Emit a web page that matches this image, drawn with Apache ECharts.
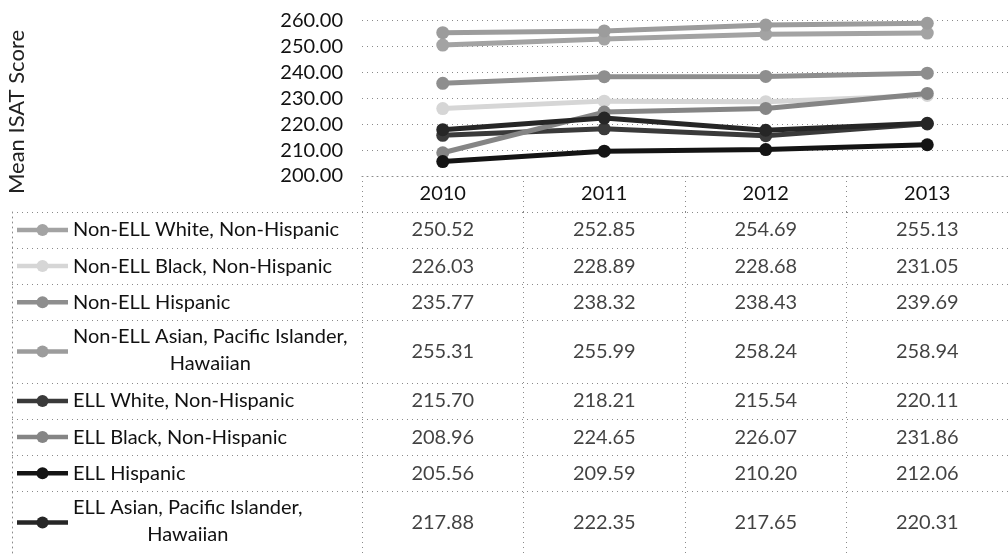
<!DOCTYPE html>
<html>
<head>
<meta charset="utf-8">
<script src="https://cdn.jsdelivr.net/npm/echarts@6/dist/echarts.min.js"></script>
<style>
html,body{margin:0;padding:0;background:#fff;}
#chart{width:1008px;height:554px;}
</style>
</head>
<body>
<div id="chart"></div>
<script>
// ---------- data ----------
const years = ['2010', '2011', '2012', '2013'];
const groupNames = [
  'Non-ELL White, Non-Hispanic',
  'Non-ELL Black, Non-Hispanic',
  'Non-ELL Hispanic',
  'Non-ELL Asian, Pacific Islander, Hawaiian',
  'ELL White, Non-Hispanic',
  'ELL Black, Non-Hispanic',
  'ELL Hispanic',
  'ELL Asian, Pacific Islander, Hawaiian'
];
const nonEllWhite    = [250.52, 252.85, 254.69, 255.13];
const nonEllBlack    = [226.03, 228.89, 228.68, 231.05];
const nonEllHispanic = [235.77, 238.32, 238.43, 239.69];
const nonEllAsian    = [255.31, 255.99, 258.24, 258.94];
const ellWhite       = [215.70, 218.21, 215.54, 220.11];
const ellBlack       = [208.96, 224.65, 226.07, 231.86];
const ellHispanic    = [205.56, 209.59, 210.20, 212.06];
const ellAsian       = [217.88, 222.35, 217.65, 220.31];
const yAxisMin = 200, yAxisMax = 260, yAxisStep = 10;
const axisTitle = 'Mean ISAT Score';

// ---------- style / layout ----------
const seriesValues = [nonEllWhite, nonEllBlack, nonEllHispanic, nonEllAsian, ellWhite, ellBlack, ellHispanic, ellAsian];
const colors = ['#a3a3a3', '#d6d6d6', '#8e8e8e', '#9c9c9c', '#3a3a3a', '#858585', '#141414', '#262626'];
const FONT = 'Lato';
const FS = 20;
const textColor = '#111111';
const gridColor = '#8a8a8a';
const dotted = [1, 4];

// wrap row names to fit the label cell
const ctx = document.createElement('canvas').getContext('2d');
ctx.font = FS + 'px ' + FONT;
const maxTextW = 289;
function wrap(name) {
  const words = name.split(' ');
  const lines = [];
  let cur = '';
  words.forEach(w => {
    const t = cur ? cur + ' ' + w : w;
    if (ctx.measureText(t).width > maxTextW && cur) { lines.push(cur); cur = w; }
    else cur = t;
  });
  lines.push(cur);
  return lines;
}
const wrapped = groupNames.map(wrap);
const rowH = wrapped.map(l => l.length > 1 ? 1.74 : 1);
const boundaries = [0];
rowH.forEach(h => boundaries.push(boundaries[boundaries.length - 1] + h));
const centers = rowH.map((h, i) => boundaries[i] + h / 2);
const tableTotal = boundaries[boundaries.length - 1];

const chart = echarts.init(document.getElementById('chart'), null, {renderer: 'canvas'});

const lineSeries = seriesValues.map((vals, i) => ({
  name: groupNames[i],
  type: 'line',
  xAxisIndex: 0, yAxisIndex: 0,
  data: vals,
  symbol: 'circle',
  symbolSize: 13,
  lineStyle: {color: colors[i], width: 5},
  itemStyle: {color: colors[i]},
  z: 3 + i,
  animation: false
}));

const markLineCfg = {
  silent: true,
  symbol: ['none', 'none'],
  label: {show: false},
  lineStyle: {type: dotted, color: gridColor, width: 1},
  animation: false,
  data: boundaries.map(b => ({yAxis: b}))
};

const valueSeries = seriesValues.map((vals, i) => ({
  type: 'scatter',
  xAxisIndex: 1, yAxisIndex: 1,
  symbolSize: 0,
  data: vals.map((v, j) => [j, centers[i], v]),
  label: {
    show: true, position: 'inside',
    formatter: p => p.value[2].toFixed(2),
    fontFamily: FONT, fontSize: FS, color: textColor
  },
  markLine: i === 0 ? markLineCfg : undefined,
  silent: true,
  animation: false
}));

const rowLabelSeries = {
  type: 'custom',
  xAxisIndex: 2, yAxisIndex: 2,
  data: groupNames.map((n, i) => [i, centers[i]]),
  silent: true,
  animation: false,
  markLine: markLineCfg,
  renderItem: (params, api) => {
    const i = api.value(0);
    const p = api.coord([0, api.value(1)]);
    const px = v => api.coord([v, 0])[0];
    const y = p[1];
    const lines = wrapped[i];
    const w1 = ctx.measureText(lines[0]).width;
    const textStyle = lines.length === 1
      ? {text: lines[0], x: px(61), y: y, align: 'left', verticalAlign: 'middle'}
      : {text: lines.join('\n'), x: px(61) + w1 / 2, y: y - 2, align: 'center', verticalAlign: 'middle', lineHeight: 27};
    Object.assign(textStyle, {fontFamily: FONT, fontSize: FS, fill: textColor});
    return {
      type: 'group',
      children: [
        {type: 'line', shape: {x1: px(5), y1: y, x2: px(56), y2: y}, style: {stroke: colors[i], lineWidth: 4.5}},
        {type: 'circle', shape: {cx: px(30.5), cy: y, r: 6}, style: {fill: colors[i]}},
        {type: 'text', style: textStyle}
      ]
    };
  }
};

const option = {
  backgroundColor: '#ffffff',
  animation: false,
  grid: [
    {left: 362, top: 20.5, width: 660, height: 155.5},
    {left: 362, top: 212, width: 660, height: 344},
    {left: 12, top: 212, width: 350, height: 344}
  ],
  xAxis: [
    {
      gridIndex: 0, type: 'category', data: years, boundaryGap: true,
      axisLine: {show: true, lineStyle: {type: dotted, color: gridColor, width: 1}},
      axisTick: {show: true, length: 36, inside: false, interval: 0, lineStyle: {type: dotted, color: gridColor, width: 1}},
      axisLabel: {show: true, interval: 0, margin: 0, lineHeight: 36, verticalAlign: 'top', fontFamily: FONT, fontSize: FS, color: textColor},
      splitLine: {show: false}
    },
    {
      gridIndex: 1, type: 'category', data: years, boundaryGap: true,
      axisLine: {show: false}, axisTick: {show: false}, axisLabel: {show: false},
      splitLine: {show: true, interval: 0, lineStyle: {type: dotted, color: gridColor, width: 1}}
    },
    {
      gridIndex: 2, type: 'value', min: 0, max: 350, show: false
    }
  ],
  yAxis: [
    {
      gridIndex: 0, type: 'value', min: yAxisMin, max: yAxisMax, interval: yAxisStep,
      axisLine: {show: false}, axisTick: {show: false},
      axisLabel: {formatter: v => v.toFixed(2), margin: 19, fontFamily: FONT, fontSize: FS, color: textColor},
      splitLine: {show: true, lineStyle: {type: dotted, color: gridColor, width: 1}}
    },
    {
      gridIndex: 1, type: 'value', min: 0, max: tableTotal, inverse: true, show: false
    },
    {
      gridIndex: 2, type: 'value', min: 0, max: tableTotal, inverse: true,
      axisLine: {show: true, lineStyle: {type: dotted, color: gridColor, width: 1}},
      axisTick: {show: false}, axisLabel: {show: false}, splitLine: {show: false}
    }
  ],
  graphic: [{
    type: 'text', x: 17, y: 112, rotation: Math.PI / 2,
    style: {text: axisTitle, align: 'center', verticalAlign: 'middle', fontFamily: FONT, fontSize: 22, fill: '#222'}
  }],
  series: [...lineSeries, ...valueSeries, rowLabelSeries]
};
chart.setOption(option);
</script>
</body>
</html>
